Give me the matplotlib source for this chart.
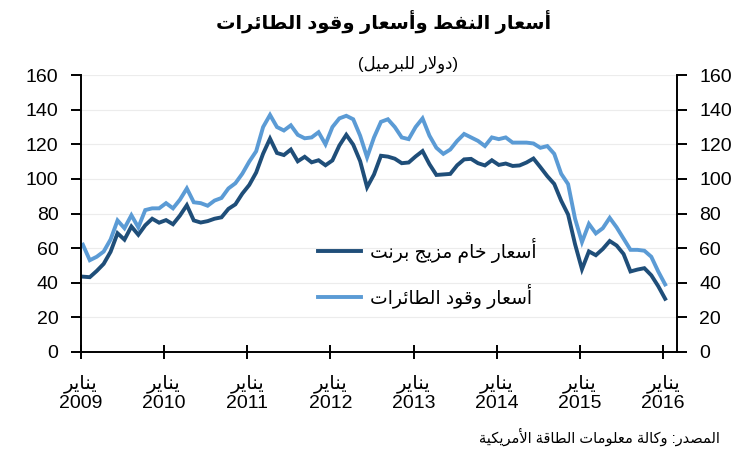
import numpy as np
import matplotlib
matplotlib.use('Agg')
import matplotlib.pyplot as plt
from matplotlib.lines import Line2D

# monthly prices, Jan 2009 .. Jan 2016 (USD per barrel)
brent = [43.5, 43.2, 46.8, 50.9, 57.9, 68.6, 64.9, 72.5, 67.7, 73.2, 77.0, 74.7,
         76.2, 73.8, 78.8, 84.8, 76.0, 74.8, 75.6, 77.0, 77.8, 82.7, 85.3, 91.5,
         96.5, 103.7, 114.6, 123.3, 115.0, 113.8, 117.0, 110.2, 112.8, 109.6, 110.8, 107.9,
         110.7, 119.3, 125.5, 119.8, 110.3, 95.2, 102.6, 113.4, 112.9, 111.7, 109.1, 109.5,
         113.0, 116.1, 108.5, 102.3, 102.6, 102.9, 107.9, 111.3, 111.6, 109.1, 107.8, 110.8,
         108.1, 108.9, 107.5, 107.8, 109.5, 111.8, 106.8, 101.6, 97.1, 87.4, 79.4, 62.3,
         47.8, 58.1, 55.9, 59.5, 64.1, 61.5, 56.6, 46.5, 47.6, 48.4, 44.3, 38.0,
         30.7]
jet = [62, 53, 55, 58, 65, 76, 71.5, 79, 72, 82, 83, 83,
       86, 83, 88, 94.5, 86.5, 86, 84.5, 87.5, 89, 94.5, 97.5, 103,
       110, 116, 130, 137, 130, 128, 131, 125.5, 123.5, 124, 127, 120,
       130, 135, 136.5, 134.5, 125, 112.5, 124, 133, 134.5, 130, 124, 123,
       130, 135, 125, 118, 114.5, 117, 122, 126, 124, 122, 119, 124,
       123, 124, 121, 121, 121, 120.5, 118, 119, 114.5, 103, 97, 77,
       63.5, 74, 68.5, 71.5, 77.5, 72, 65.5, 59, 59, 58.5, 55, 46.5,
       39]
years = ['2009', '2010', '2011', '2012', '2013', '2014', '2015', '2016']
month_word = 'يناير'
title = 'أسعار النفط وأسعار وقود الطائرات'
subtitle = '(دولار للبرميل)'
labels = ['أسعار خام مزيج برنت', 'أسعار وقود الطائرات']
source = 'المصدر: وكالة معلومات الطاقة الأمريكية'

# matplotlib has no arabic shaping: map letters to presentation forms and
# reverse to visual order. type 0 = no joining, 1 = joins right only, 2 = both
FORMS = {'ء': (0xFE80, 0), 'آ': (0xFE81, 1), 'أ': (0xFE83, 1), 'إ': (0xFE87, 1),
         'ئ': (0xFE89, 2), 'ا': (0xFE8D, 1), 'ب': (0xFE8F, 2), 'ة': (0xFE93, 1),
         'ت': (0xFE95, 2), 'ث': (0xFE99, 2), 'ج': (0xFE9D, 2), 'ح': (0xFEA1, 2),
         'خ': (0xFEA5, 2), 'د': (0xFEA9, 1), 'ذ': (0xFEAB, 1), 'ر': (0xFEAD, 1),
         'ز': (0xFEAF, 1), 'س': (0xFEB1, 2), 'ش': (0xFEB5, 2), 'ص': (0xFEB9, 2),
         'ض': (0xFEBD, 2), 'ط': (0xFEC1, 2), 'ظ': (0xFEC5, 2), 'ع': (0xFEC9, 2),
         'غ': (0xFECD, 2), 'ف': (0xFED1, 2), 'ق': (0xFED5, 2), 'ك': (0xFED9, 2),
         'ل': (0xFEDD, 2), 'م': (0xFEE1, 2), 'ن': (0xFEE5, 2), 'ه': (0xFEE9, 2),
         'و': (0xFEED, 1), 'ى': (0xFEEF, 1), 'ي': (0xFEF1, 2)}
LAM_ALEF = {'ا': 0xFEFB, 'أ': 0xFEF7, 'إ': 0xFEF9, 'آ': 0xFEF5}
MIRROR = {'(': ')', ')': '('}


def ar(text):
    toks = []
    i = 0
    while i < len(text):
        c = text[i]
        if c == 'ل' and i + 1 < len(text) and text[i + 1] in LAM_ALEF:
            toks.append((LAM_ALEF[text[i + 1]], 1))
            i += 2
            continue
        toks.append(FORMS.get(c, (c, None)))
        i += 1
    out = []
    for k, (b, t) in enumerate(toks):
        if t is None:
            out.append(MIRROR.get(b, b))
            continue
        prev_t = toks[k - 1][1] if k > 0 else None
        next_t = toks[k + 1][1] if k + 1 < len(toks) else None
        form = 0
        if t > 0:
            form = (1 if prev_t == 2 else 0) + (2 if t == 2 and next_t in (1, 2) else 0)
        out.append(chr(b + form))
    return ''.join(reversed(out))


plt.rcParams['font.family'] = ['Liberation Sans', 'DejaVu Sans']

dark = '#1f4e79'
light = '#5b9bd5'

fig = plt.figure(figsize=(7.48, 4.5), dpi=100)
ax = fig.add_axes([0.108, 0.218, 0.797, 0.615])

x = np.arange(len(brent))
ax.plot(x, brent, color=dark, lw=2.8, solid_joinstyle='miter')
ax.plot(x, jet, color=light, lw=2.8, solid_joinstyle='miter')

ax.set_ylim(0, 160)
ax.set_yticks(np.arange(0, 161, 20))
ax.set_xlim(-0.3, 85.7)
ax.set_xticks(np.arange(len(years)) * 12 - 0.3)
ax.set_xticklabels([ar(month_word) + '\n' + y for y in years], fontsize=14, linespacing=1.15)
ax.grid(axis='y', color='#ececec', lw=0.8)
ax.set_axisbelow(True)

ax.spines['top'].set_visible(False)
for s in ['left', 'right', 'bottom']:
    ax.spines[s].set_linewidth(1.4)
ax.tick_params(axis='y', left=True, right=True, labelleft=True, labelright=True,
               direction='out', length=7, width=1.4, pad=9, labelsize=14)
ax.tick_params(axis='x', direction='inout', length=10, width=1.4, pad=11)

handles = [Line2D([], [], color=dark, lw=2.8), Line2D([], [], color=light, lw=2.8)]
ax.legend(handles, [ar(l) for l in labels], loc='upper left',
          bbox_to_anchor=(318 / 748, 1 - 238 / 450), bbox_transform=fig.transFigure,
          frameon=False, fontsize=13.5, handlelength=2.3, handletextpad=0.5,
          labelspacing=1.1, borderpad=0, borderaxespad=0)

fig.text(0.513, 0.951, ar(title), ha='center', va='center', fontsize=14, fontweight='bold')
fig.text(0.545, 0.856, ar(subtitle), ha='center', va='center', fontsize=12)
fig.text(0.962, 0.029, ar(source), ha='right', va='center', fontsize=10.5)

fig.savefig('out.png', dpi=100)
